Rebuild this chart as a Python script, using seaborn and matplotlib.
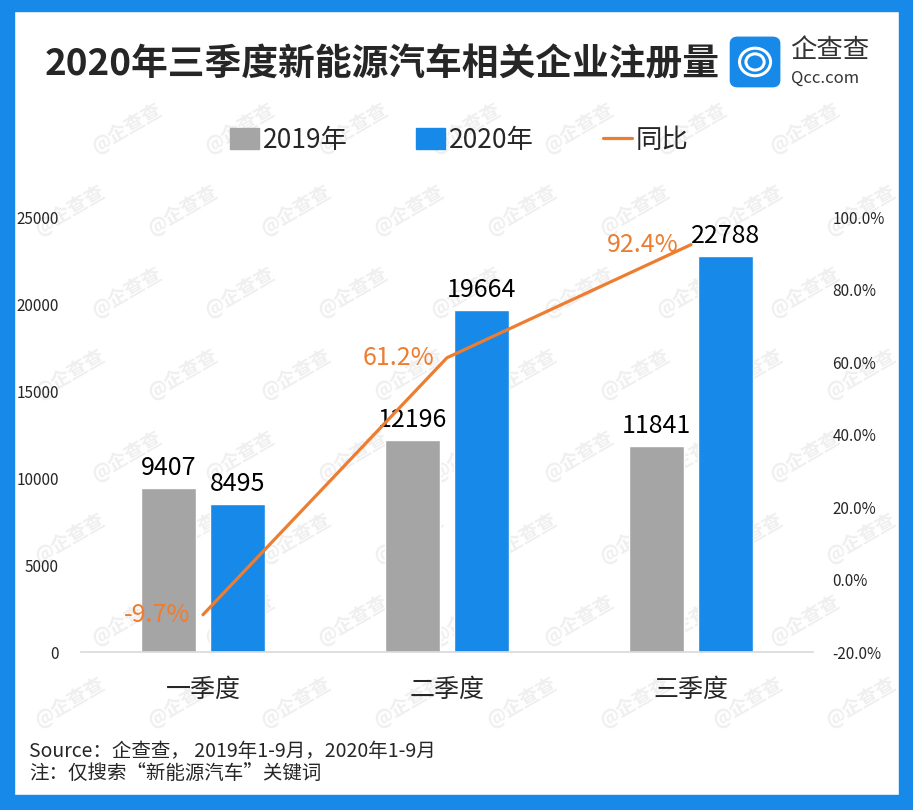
import matplotlib
matplotlib.use("Agg")
import matplotlib.pyplot as plt
from matplotlib.patches import Patch, FancyBboxPatch, Rectangle, Circle
from matplotlib.lines import Line2D
import numpy as np
import pandas as pd
import seaborn as sns

# 数据
quarters = ["一季度", "二季度", "三季度"]
reg_2019 = [9407, 12196, 11841]
reg_2020 = [8495, 19664, 22788]
yoy = [-9.7, 61.2, 92.4]
years = ["2019年", "2020年"]

GRAY = "#a5a5a5"
BLUE = "#1689e9"
ORANGE = "#ed7d31"

sns.set_theme(style="white")
plt.rcParams["font.family"] = ["Noto Sans CJK SC", "DejaVu Sans"]

df = pd.DataFrame({
    "季度": quarters * 2,
    "年份": [years[0]] * 3 + [years[1]] * 3,
    "注册量": reg_2019 + reg_2020,
})

W, H = 913, 810
fig = plt.figure(figsize=(W / 100, H / 100), dpi=100)

# 背景水印（在所有图形之下）
bg = fig.add_axes([0, 0, 1, 1], zorder=-1)
bg.set_xlim(0, W)
bg.set_ylim(H, 0)
bg.axis("off")
for j, py in enumerate(np.arange(128, 800, 82)):
    for px in np.arange(70 + (j % 2) * 56 - 56, 900, 113):
        if 50 < px < 880 and 30 < py < 780:
            bg.text(px, py, "@企查查", fontsize=14, color="#efefef",
                    rotation=30, ha="center", va="center",
                    fontweight="bold")

ax = fig.add_axes([0.0887, 0.195, 0.8018, 0.537])
ax.patch.set_alpha(0)
sns.barplot(data=df, x="季度", y="注册量", hue="年份", order=quarters,
            palette=[GRAY, BLUE], width=0.565, gap=0.2, saturation=1,
            ax=ax, legend=False)
ax.set_xlim(-0.5, 2.5)
ax.set_ylim(0, 25000)
ax.set_yticks(np.arange(0, 25001, 5000))
ax.set_xlabel("")
ax.set_ylabel("")
for c in ax.containers:
    ax.bar_label(c, padding=5, fontsize=18, color="black")
for s in ["top", "right", "left"]:
    ax.spines[s].set_visible(False)
ax.spines["bottom"].set_color("#d9d9d9")
ax.spines["bottom"].set_linewidth(1.2)
ax.tick_params(axis="y", length=0, labelsize=11, pad=16)
ax.tick_params(axis="x", length=0, labelsize=18, pad=18)

ax2 = ax.twinx()
sns.lineplot(x=np.arange(len(yoy)), y=yoy, color=ORANGE, linewidth=2.3, ax=ax2)
ax2.set_ylim(-20, 100)
ax2.set_yticks(np.arange(-20, 101, 20))
ax2.set_yticklabels([f"{v:.1f}%" for v in np.arange(-20, 101, 20)])
ax2.tick_params(axis="y", length=0, labelsize=11, pad=14)
for s in ["top", "right", "left", "bottom"]:
    ax2.spines[s].set_visible(False)
for i, v in enumerate(yoy):
    ax2.annotate(f"{v}%", (i, v), xytext=(-9, 0), textcoords="offset points",
                 ha="right", va="center", fontsize=18, color=ORANGE)

# 图例
handles = [Patch(color=GRAY), Patch(color=BLUE),
           Line2D([0], [0], color=ORANGE, linewidth=2.3)]
fig.legend(handles, ["2019年", "2020年", "同比"], loc="center",
           bbox_to_anchor=(0.503, 0.827), ncol=3, frameon=False, fontsize=19,
           handlelength=1.1, handleheight=0.9, handletextpad=0.15,
           columnspacing=2.6)

# 标题
fig.text(0.049, 0.92, "2020年三季度新能源汽车相关企业注册量", fontsize=26.5,
         fontweight="bold", ha="left", va="center")

# 标志
fig.patches.append(FancyBboxPatch((0.800, 0.893), 0.054, 0.061,
                                  boxstyle="round,pad=0,rounding_size=0.008",
                                  transform=fig.transFigure, color=BLUE))
for r in [0.017, 0.010]:
    fig.patches.append(Circle((0.827, 0.9235), r, transform=fig.transFigure,
                              fill=False, ec="white", lw=2.2))
fig.text(0.865, 0.938, "企查查", fontsize=19, color="#333333", ha="left",
         va="center")
fig.text(0.866, 0.903, "Qcc.com", fontsize=12, color="#333333", ha="left",
         va="center")

# 注释
fig.text(0.032, 0.072, "Source：企查查， 2019年1-9月，2020年1-9月",
         fontsize=14, ha="left", va="center")
fig.text(0.032, 0.045, "注：仅搜索“新能源汽车”关键词",
         fontsize=14, ha="left", va="center")

# 蓝色边框
bw = 0.0155
for rect in [(0, 0, bw, 1), (1 - bw, 0, bw, 1), (0, 1 - 0.014, 1, 0.014),
             (0, 0, 1, 0.018)]:
    fig.patches.append(Rectangle(rect[:2], rect[2], rect[3],
                                 transform=fig.transFigure, color=BLUE,
                                 zorder=10))

fig.savefig("out.png", dpi=100)
